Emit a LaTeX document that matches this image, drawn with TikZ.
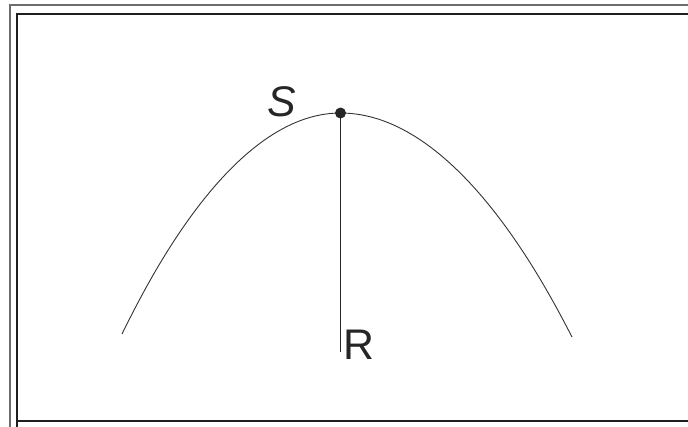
\documentclass[tikz,border=0pt]{standalone}
\usepackage{fontspec}
\setmainfont{Liberation Sans}
\begin{document}
\begin{tikzpicture}[x=1bp,y=-1bp,
  frameout/.style={draw=gray!85!black,line width=2bp},
  framein/.style={draw=black!88,line width=2bp},
  curve/.style={draw=black!80,line width=0.9bp},
  lbl/.style={font=\fontsize{43}{48}\selectfont,text=black!85,inner sep=0pt}]
\useasboundingbox (0,0) rectangle (688,426);
\draw[frameout] (10,440) -- (10,5) -- (700,5);
\draw[framein] (17,440) |- (700,14);
\draw[framein] (17,421) -- (700,421);
\coordinate (L) at (122,334);
\coordinate (T) at (340.5,113);
\coordinate (Rr) at (572,337);
\coordinate (B) at (340.5,352);
\draw[curve] (L) parabola bend (T) (Rr);
\draw[black!85,line width=1.3bp] (T) -- (B);
\fill[black!85] (T) circle (5.5bp);
\node[lbl,font=\fontsize{43}{48}\selectfont\itshape] (S) at (281.5,102) {S};
\node[lbl] (R) at (358.5,344.5) {R};
\end{tikzpicture}
\end{document}
